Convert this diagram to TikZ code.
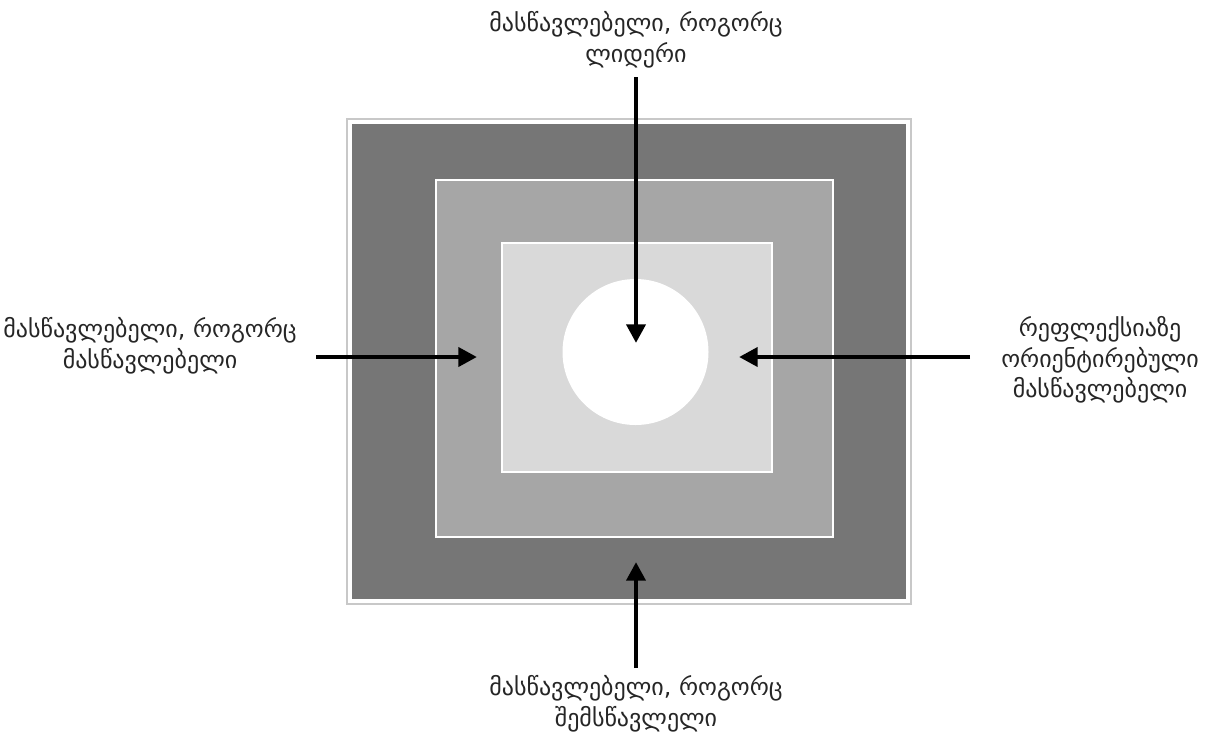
\documentclass[tikz,border=0pt]{standalone}
\usepackage{fontspec}
\setmainfont{DejaVu Sans}
\usetikzlibrary{arrows.meta}
\definecolor{darkg}{HTML}{767676}
\definecolor{midg}{HTML}{A6A6A6}
\definecolor{lightg}{HTML}{D9D9D9}
\definecolor{frameg}{HTML}{C8C8C8}
\tikzset{
  lbl/.style={align=center, font=\fontsize{18}{23}\selectfont, text=black!85, inner sep=0pt},
  arr/.style={line width=3.5pt, -{Triangle[length=14pt,width=14pt]}},
  boxw/.style={draw=white, line width=2.2pt}
}
\begin{document}
\begin{tikzpicture}[x=0.75pt,y=-0.75pt]
\useasboundingbox (0,0) rectangle (1220,733);
\fill[white] (0,0) rectangle (1220,733);
% outer frame
\node[draw=frameg, line width=1pt, minimum width=564*0.75pt, minimum height=485*0.75pt, inner sep=0pt] (frame) at (629,361.5) {};
\node[fill=darkg, minimum width=554*0.75pt, minimum height=475*0.75pt, inner sep=0pt] (outer) at (629,361.5) {};
\node[boxw, fill=midg, minimum width=397*0.75pt, minimum height=357*0.75pt, inner sep=0pt] (middle) at (634.5,358.5) {};
\node[boxw, fill=lightg, minimum width=270*0.75pt, minimum height=229*0.75pt, inner sep=0pt] (inner) at (637,357.5) {};
\node[circle, fill=white, minimum size=146*0.75pt, inner sep=0pt] (core) at (635.5,352) {};
% labels
\node[lbl] (ltop) at (636,40) {მასწავლებელი, როგორც\\ლიდერი};
\node[lbl] (lleft) at (150,346) {მასწავლებელი, როგორც\\მასწავლებელი};
\node[lbl] (lright) at (1100,360) {რეფლექსიაზე\\ორიენტირებული\\მასწავლებელი};
\node[lbl] (lbot) at (636,704) {მასწავლებელი, როგორც\\შემსწავლელი};
% arrow coordinates
\coordinate (ts) at (636,77);
\coordinate (te) at (636,343);
\coordinate (ls) at (316,357);
\coordinate (le) at (477,357);
\coordinate (rs) at (970,357);
\coordinate (re) at (739,357);
\coordinate (bs) at (636,668);
\coordinate (be) at (636,562);
\draw[arr] (ts) -- (te);
\draw[arr] (ls) -- (le);
\draw[arr] (rs) -- (re);
\draw[arr] (bs) -- (be);
\end{tikzpicture}
\end{document}
